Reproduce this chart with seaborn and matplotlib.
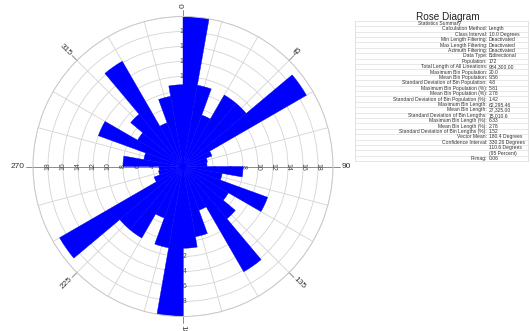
import numpy as np
import pandas as pd
import matplotlib
matplotlib.use("Agg")
import matplotlib.pyplot as plt
import seaborn as sns
from matplotlib.lines import Line2D

# ---------------- data ----------------
bin_start_deg = [0, 10, 20, 30, 40, 50, 60, 70, 80, 90, 100, 110, 120, 130, 140, 150, 160, 170,
                 180, 190, 200, 210, 220, 230, 240, 250, 260, 270, 280, 290, 300, 310, 320, 330, 340, 350]
bin_length = [20.0, 11.0, 7.3, 11.0, 11.0, 19.0, 4.1, 3.3, 3.2, 8.0, 5.3, 12.0, 7.0, 9.1, 16.2, 6.2, 9.5, 10.9,
              20.0, 11.0, 7.3, 11.0, 11.0, 19.0, 4.1, 3.3, 3.2, 8.0, 5.3, 12.0, 7.0, 9.1, 16.2, 6.2, 9.5, 10.9]
ring_values = [2, 4, 6, 8, 10, 12, 14, 16, 18]
angle_labels = [0, 45, 90, 135, 180, 225, 270, 315]

title_text = "Rose Diagram"
stat_labels = ["Calculation Method:", "Class Interval:", "Min Length Filtering:", "Max Length Filtering:",
               "Azimuth Filtering:", "Data Type:", "Population:", "Total Length of All Lineations:",
               "Maximum Bin Population:", "Mean Bin Population:", "Standard Deviation of Bin Population:",
               "Maximum Bin Population (%):", "Mean Bin Population (%):",
               "Standard Deviation of Bin Population (%):", "Maximum Bin Length:", "Mean Bin Length:",
               "Standard Deviation of Bin Lengths:", "Maximum Bin Length (%):", "Mean Bin Length (%):",
               "Standard Deviation of Bin Lengths (%):", "Vector Mean:", "Confidence Interval:", "", "", "R-mag:"]
stat_values = ["Length", "10.0 Degrees", "Deactivated", "Deactivated", "Deactivated", "Bidirectional",
               "172", "984,300.00", "20.0", "9.56", "4.8", "5.81", "2.78", "1.42", "62,295.46",
               "27,325.00", "15,010.6", "6.33", "2.78", "1.52", "180.4 Degrees", "330.26 Degrees",
               "110.6 Degrees", "(95 Percent)", "0.06"]

# ---------------- figure ----------------
sns.set_style("white")
plt.rcParams["font.family"] = ["Liberation Sans", "DejaVu Sans"]

W, H = 530, 331
fig = plt.figure(figsize=(5.3, 3.31), dpi=100)
fig.patch.set_facecolor("white")

cx, cy, R = 183, 166.5, 150
ax = fig.add_axes([(cx - R) / W, (H - cy - R) / H, 2 * R / W, 2 * R / H], projection="polar")
ax.set_theta_zero_location("N")
ax.set_theta_direction(-1)
ax.set_facecolor("white")

df = pd.DataFrame({"theta": np.deg2rad(np.array(bin_start_deg) + 5.0), "length": bin_length})
sns.barplot(data=df, x="theta", y="length", native_scale=True, width=1.0, color="#0000ff",
            saturation=1, edgecolor="#0000ff", linewidth=0.3, errorbar=None, ax=ax, zorder=2)

ax.set_ylim(0, 20)
ax.set_xlabel("")
ax.set_ylabel("")
ax.set_thetagrids(np.arange(0, 360, 15), labels=[])
ax.set_rgrids([2, 4, 6, 8, 10, 12, 14, 16, 18, 20], labels=[])
ax.set_axisbelow(True)
ax.grid(True, color="#d4d4d4", linewidth=0.6)
ax.spines["polar"].set_color("#c8c8c8")
ax.spines["polar"].set_linewidth(0.7)
ax.tick_params(length=0)

# main axes lines (N-S, E-W) slightly darker
for a in [0, 90, 180, 270]:
    t = np.deg2rad(a)
    ax.plot([t, t], [0, 20.9], color="#8c8c8c", linewidth=0.7, zorder=0.9, clip_on=False)
# short outer ticks at the diagonal labels
for a in [45, 135, 225, 315]:
    t = np.deg2rad(a)
    ax.plot([t, t], [20, 20.9], color="#8c8c8c", linewidth=0.7, zorder=0.9, clip_on=False)

# ring labels along the four axes (drawn under the bars)
for v in ring_values:
    ax.text(np.deg2rad(0), v, str(v), fontsize=5, color="#444444", ha="center", va="center", zorder=1)
    ax.text(np.deg2rad(180), v, str(v), fontsize=5, color="#444444", ha="center", va="center", zorder=1)
    ax.text(np.deg2rad(90), v, str(v), fontsize=5, color="#444444", ha="center", va="center",
            rotation=-90, zorder=1)
    ax.text(np.deg2rad(270), v, str(v), fontsize=5, color="#444444", ha="center", va="center",
            rotation=90, zorder=1)

# angular labels
for a in angle_labels:
    t = np.deg2rad(a)
    if a < 180:
        rot = 90 - a
        ha = "left"
    else:
        rot = 270 - a
        ha = "right"
    if a == 180:
        rot, ha = -90, "left"
    ax.text(t, 21.1, str(a), fontsize=6, color="#333333", rotation=rot, rotation_mode="anchor",
            ha=ha, va="center", clip_on=False)

# ---------------- statistics table ----------------
def fx(x):
    return x / W


def fy(y):
    return 1 - y / H


fig.text(fx(448), fy(17), title_text, fontsize=7.2, ha="center", va="center", color="#222222")
row_h = 5.4
y0 = 23.5
fig.text(fx(439), fy(y0), "Statistics Summary", fontsize=3.6, ha="center", va="center", color="#333333")
for i, (lab, val) in enumerate(zip(stat_labels, stat_values)):
    y = y0 + (i + 1) * row_h
    fig.text(fx(487), fy(y), lab, fontsize=3.6, ha="right", va="center", color="#333333")
    fig.text(fx(489), fy(y), val, fontsize=3.6, ha="left", va="center", color="#333333")

n_rows = len(stat_labels) + 1
top = y0 - row_h / 2
bottom = y0 + (n_rows - 0.5) * row_h
for i in range(n_rows + 1):
    y = top + i * row_h
    fig.add_artist(Line2D([fx(355), fx(528)], [fy(y), fy(y)], color="#d6d6d6", linewidth=0.4))
for x in [355, 528]:
    fig.add_artist(Line2D([fx(x), fx(x)], [fy(top), fy(bottom)], color="#d6d6d6", linewidth=0.5))

fig.savefig("out.png", dpi=100, facecolor="white")
